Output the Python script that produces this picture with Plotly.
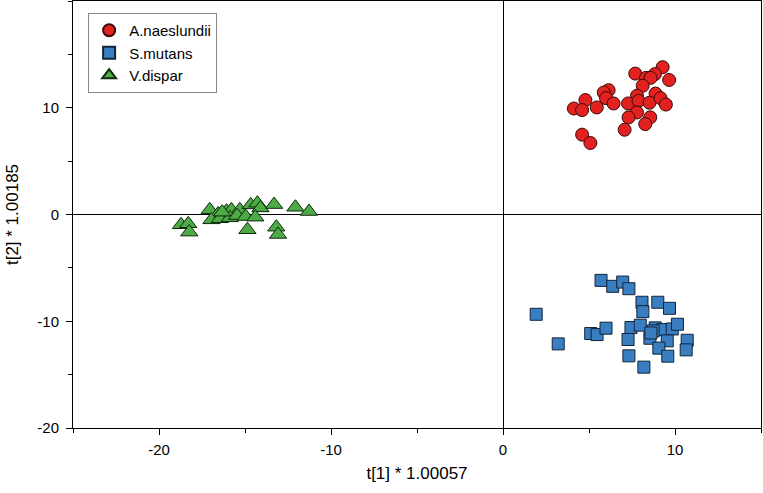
import plotly.graph_objects as go

# A.naeslundii
a_x = [9.28, 7.69, 8.83, 8.31, 8.58, 9.66, 8.12, 6.14, 5.86, 7.79, 8.87, 4.79, 5.99, 6.43, 7.27,
       7.88, 8.52, 9.16, 9.47, 4.12, 4.60, 5.45, 7.79, 7.30, 8.56, 8.27, 7.07, 4.60, 5.08]
a_y = [13.8, 13.2, 13.15, 12.8, 12.8, 12.6, 12.06, 11.65, 11.43, 11.12, 11.33, 10.72, 10.9, 10.4, 10.4,
       10.65, 10.47, 10.9, 10.3, 9.93, 9.78, 10.03, 9.56, 9.1, 9.1, 8.47, 7.94, 7.48, 6.7]

# S.mutans
s_x = [5.70, 6.38, 6.96, 7.32, 8.08, 9.00, 9.68, 8.13, 1.93, 5.10, 5.47, 5.99, 7.44, 7.98, 8.85,
       9.30, 9.84, 10.14, 8.73, 8.54, 7.27, 9.55, 10.71, 10.65, 9.06, 3.21, 7.32, 9.58, 8.19, 8.60]
s_y = [-6.17, -6.73, -6.33, -6.95, -8.22, -8.22, -8.79, -9.10, -9.35, -11.15, -11.25, -10.65, -10.59, -10.37, -10.62,
       -10.78, -10.72, -10.28, -10.9, -11.59, -11.71, -11.84, -11.78, -12.68, -12.52, -12.12, -13.24, -13.27, -14.3, -11.1]

# V.dispar
v_x = [-17.05, -16.56, -16.08, -15.79, -15.30, -14.67, -14.28, -14.10, -13.31, -12.07, -11.28, -18.72,
       -18.30, -18.24, -16.95, -16.46, -15.88, -15.46, -14.96, -14.40, -14.86, -13.18, -13.08, -16.33]
v_y = [0.44, 0.06, 0.31, 0.44, 0.44, 0.90, 1.06, 0.62, 0.93, 0.68, 0.28, -0.96,
       -0.87, -1.65, -0.50, -0.40, -0.31, -0.10, -0.19, -0.25, -1.43, -1.19, -1.87, 0.22]

x_tick_vals = [-20, -10, 0, 10]
x_tick_text = ["-20", "-10", "0", "10"]
y_tick_vals = [-20, -10, 0, 10]
y_tick_text = ["-20", "-10", "0", "10"]

x_title = "t[1] * 1.00057"
y_title = "t[2] * 1.00185"
FONT = "Liberation Sans, Arial, sans-serif"

fig = go.Figure()
fig.add_trace(go.Scatter(x=a_x, y=a_y, mode="markers", name="A.naeslundii",
                         marker=dict(symbol="circle", size=13, color="#E3211E",
                                     line=dict(color="#3a0a0a", width=1))))
fig.add_trace(go.Scatter(x=s_x, y=s_y, mode="markers", name="S.mutans",
                         marker=dict(symbol="square", size=12, color="#3A7EC2",
                                     line=dict(color="#10243a", width=1))))
fig.add_trace(go.Scatter(x=v_x, y=v_y, mode="markers", name="V.dispar",
                         marker=dict(symbol="triangle-up", size=15, color="#4DAA46",
                                     line=dict(color="#0f2a0c", width=1))))

axis_common = dict(showgrid=False, showline=True, linecolor="black", linewidth=1, mirror=True,
                   ticks="outside", ticklen=6, tickcolor="black", automargin=False,
                   zeroline=True, zerolinecolor="black", zerolinewidth=1,
                   tickfont=dict(family=FONT, size=15, color="black"),
                   minor=dict(dtick=5, tick0=0, ticks="outside", ticklen=4, tickcolor="black"))

fig.update_xaxes(range=[-25, 15], tickmode="array", tickvals=x_tick_vals, ticktext=x_tick_text,
                 title=dict(text=x_title, font=dict(family=FONT, size=17, color="black"), standoff=10),
                 ticklabelstandoff=2, **axis_common)
fig.update_yaxes(range=[-20, 20], tickmode="array", tickvals=y_tick_vals, ticktext=y_tick_text,
                 title=dict(text=y_title, font=dict(family=FONT, size=17, color="black"), standoff=14),
                 ticklabelstandoff=4, **axis_common)

fig.update_layout(
    width=763, height=493,
    margin=dict(l=73, r=2, t=1, b=65),
    plot_bgcolor="white", paper_bgcolor="white",
    font=dict(family=FONT, size=15, color="black"),
    legend=dict(x=0.022, y=0.972, xanchor="left", yanchor="top",
                bgcolor="white", bordercolor="#888888", borderwidth=1,
                font=dict(family=FONT, size=15, color="black"),
                itemsizing="constant", tracegroupgap=0),
)

fig.write_html("out.html", config={"displayModeBar": False},
               post_script="document.body.style.margin='0';")
